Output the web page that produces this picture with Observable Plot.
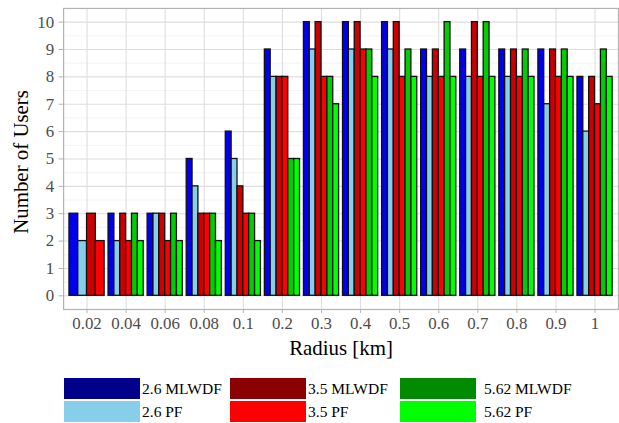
<!DOCTYPE html>
<html>
<head>
<meta charset="utf-8">
<script src="https://cdn.jsdelivr.net/npm/d3@7"></script>
<script src="https://cdn.jsdelivr.net/npm/@observablehq/plot@0.6"></script>
<style>
  html, body { margin: 0; padding: 0; background: #fff; }
  #wrap { position: relative; width: 619px; height: 423px; overflow: hidden; font-family: "Liberation Serif", "Times New Roman", Tinos, "DejaVu Serif", serif; }
  #chart { position: absolute; left: 0; top: 0; }
  #chart svg, #chart svg text { font-family: "Liberation Serif", "Times New Roman", Tinos, "DejaVu Serif", serif !important; }
  .key { position: absolute; width: 76px; height: 21px; }
  .lab { position: absolute; font-size: 15.5px; line-height: 21px; color: #000; white-space: nowrap; }
</style>
</head>
<body>
<div id="wrap"><div id="chart"></div></div>
<script>
// ---- data ----
const radii = ["0.02","0.04","0.06","0.08","0.1","0.2","0.3","0.4","0.5","0.6","0.7","0.8","0.9","1"];
const seriesNames = ["2.6 MLWDF","2.6 PF","3.5 MLWDF","3.5 PF","5.62 MLWDF","5.62 PF"];
const mlwdf26  = [3,3,3,5,6,9,10,10,10,9,9,9,9,8];
const pf26     = [2,2,3,4,5,8,9,9,9,8,8,8,7,6];
const mlwdf35  = [3,3,3,3,4,8,10,10,10,9,10,9,9,8];
const pf35     = [2,2,2,3,3,8,8,9,8,8,8,8,8,7];
const mlwdf562 = [null,3,3,3,3,5,8,9,9,10,10,9,9,9];
const pf562    = [null,2,2,2,2,5,7,8,8,8,8,8,8,8];
const yTicks = [0,1,2,3,4,5,6,7,8,9,10];

const barColors    = ["#0000EE","#87CEEB","#CC0000","#FF0000","#00CC00","#00FF00"];
const legendColors = ["#00008B","#87CEEB","#8B0000","#FF0000","#008B00","#00FF00"];

const seriesValues = [mlwdf26, pf26, mlwdf35, pf35, mlwdf562, pf562];

// dodge: within each radius, the present series share 0.9 of the band
const bars = [];
radii.forEach((r, i) => {
  const present = seriesNames.map((s, j) => ({s, j, v: seriesValues[j][i]})).filter(d => d.v != null);
  const w = 0.9 / present.length;
  present.forEach((d, k) => {
    bars.push({radius: r, idx: i, series: d.s, value: d.v, x1: i - 0.45 + k * w, x2: i - 0.45 + (k + 1) * w});
  });
});

const W = 623, H = 368;
const chart = Plot.plot({
  width: W,
  height: H,
  marginLeft: 63.5,
  marginRight: 1,
  marginTop: 8,
  marginBottom: H - 311,
  style: {fontFamily: "'Liberation Serif', 'Times New Roman', serif", fontSize: "17px", background: "#fff"},
  x: {domain: [-0.6, radii.length - 0.4], axis: null},
  y: {domain: [-0.5, 10.5], axis: null},
  color: {type: "ordinal", domain: seriesNames, range: barColors},
  marks: [
    Plot.ruleY(d3.range(0.5, 10, 1), {stroke: "#eeeeee", strokeWidth: 0.7}),
    Plot.ruleY(yTicks, {stroke: "#dedede", strokeWidth: 1.1}),
    Plot.ruleX(d3.range(radii.length), {stroke: "#dedede", strokeWidth: 1.1}),
    Plot.rectY(bars, {x1: "x1", x2: "x2", y1: 0, y2: "value", fill: "series", stroke: "#111", strokeWidth: 1.3}),
    Plot.frame({stroke: "#b3b3b3", strokeWidth: 1.2}),
    Plot.axisY({ticks: yTicks, tickSize: 4.5, tickPadding: 5, stroke: "#b3b3b3", fill: "#4d4d4d", fontSize: 17, label: null}),
    Plot.axisX({ticks: d3.range(radii.length), tickFormat: i => radii[i], tickSize: 4, tickPadding: 4, stroke: "#b3b3b3", fill: "#4d4d4d", fontSize: 17, label: null}),
    Plot.text(["Radius [km]"], {frameAnchor: "bottom", lineAnchor: "middle", textAnchor: "middle", dy: 39, fontSize: 21, fill: "#000"}),
    Plot.text(["Number of Users"], {frameAnchor: "left", lineAnchor: "middle", textAnchor: "middle", dx: -43, dy: 3, rotate: -90, fontSize: 21, fill: "#000"})
  ]
});
document.getElementById("chart").appendChild(chart);

// legend below the SVG
const wrap = document.getElementById("wrap");
const colX = [64, 230, 400];
const labX = [142, 308, 484];
const rowY = [378, 401];
seriesNames.forEach((name, j) => {
  const c = Math.floor(j / 2), r = j % 2;
  const key = document.createElement("div");
  key.className = "key";
  key.style.left = colX[c] + "px";
  key.style.top = rowY[r] + "px";
  key.style.background = legendColors[j];
  wrap.appendChild(key);
  const lab = document.createElement("div");
  lab.className = "lab";
  lab.style.left = labX[c] + "px";
  lab.style.top = rowY[r] + "px";
  lab.textContent = name;
  wrap.appendChild(lab);
});
</script>
</body>
</html>
